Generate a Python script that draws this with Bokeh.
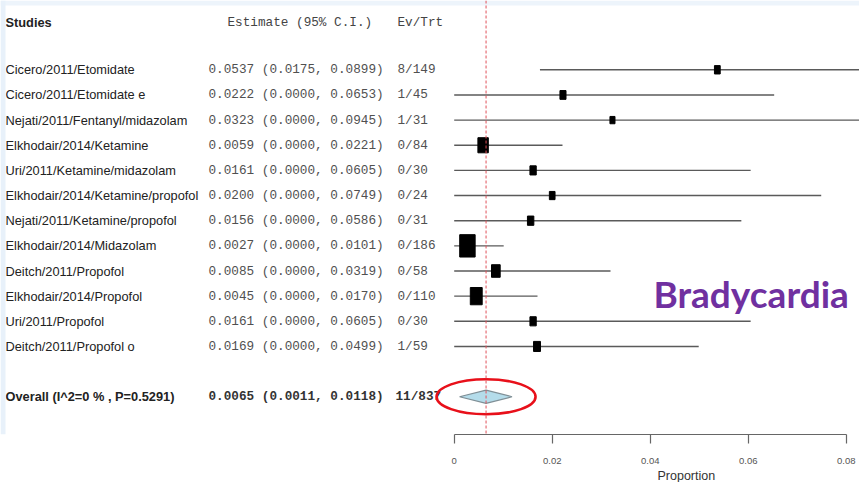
import numpy as np
from bokeh.plotting import figure
from bokeh.models import Range1d, FixedTicker, Span, Title, BoxAnnotation
from bokeh.core.properties import value
from bokeh.embed import file_html
from bokeh.resources import INLINE

# ---------------- data ----------------
studies = [
    "Cicero/2011/Etomidate",
    "Cicero/2011/Etomidate e",
    "Nejati/2011/Fentanyl/midazolam",
    "Elkhodair/2014/Ketamine",
    "Uri/2011/Ketamine/midazolam",
    "Elkhodair/2014/Ketamine/propofol",
    "Nejati/2011/Ketamine/propofol",
    "Elkhodair/2014/Midazolam",
    "Deitch/2011/Propofol",
    "Elkhodair/2014/Propofol",
    "Uri/2011/Propofol",
    "Deitch/2011/Propofol o",
]
estimates = [0.0537, 0.0222, 0.0323, 0.0059, 0.0161, 0.0200, 0.0156, 0.0027, 0.0085, 0.0045, 0.0161, 0.0169]
ci_lower = [0.0175, 0.0000, 0.0000, 0.0000, 0.0000, 0.0000, 0.0000, 0.0000, 0.0000, 0.0000, 0.0000, 0.0000]
ci_upper = [0.0899, 0.0653, 0.0945, 0.0221, 0.0605, 0.0749, 0.0586, 0.0101, 0.0319, 0.0170, 0.0605, 0.0499]
events = [8, 1, 1, 0, 0, 0, 0, 0, 0, 0, 0, 1]
treated = [149, 45, 31, 84, 30, 24, 31, 186, 58, 110, 30, 59]

overall_est = 0.0065
overall_lower = 0.0011
overall_upper = 0.0118
overall_i2 = 0
overall_p = 0.5291

tick_values = [0, 0.02, 0.04, 0.06, 0.08]
tick_labels = ["0", "0.02", "0.04", "0.06", "0.08"]
axis_title = "Proportion"
annotation = "Bradycardia"

# ---------------- layout ----------------
W, H = 859, 484
X0_REF, PX_PER_UNIT = 453.7, 4900.0
ROW0_REF, ROW_STEP = 69.3, 25.15
AXIS_REF = 434

x_start = -X0_REF / PX_PER_UNIT
x_end = (W - X0_REF) / PX_PER_UNIT
y_top = -ROW0_REF / ROW_STEP
y_bot = (AXIS_REF - ROW0_REF) / ROW_STEP

n = len(studies)
rows = list(range(n))
header_row = -1.9
overall_row = n + 1

p = figure(frame_width=W, frame_height=AXIS_REF,
           x_range=Range1d(x_start, x_end), y_range=Range1d(y_bot, y_top),
           output_backend="svg", toolbar_location=None, y_axis_location=None,
           min_border_left=0, min_border_right=0, min_border_top=0, min_border_bottom=0)
p.grid.visible = False
p.outline_line_color = None
p.background_fill_color = "white"
p.border_fill_color = "white"

# slide background edges
p.add_layout(BoxAnnotation(top=y_top, bottom=y_top + 5 / ROW_STEP, fill_color="#edf4fb",
                           fill_alpha=1, line_color=None))
p.add_layout(BoxAnnotation(left=x_start, right=x_start + 5 / PX_PER_UNIT, fill_color="#e8f1fa",
                           fill_alpha=1, line_color=None))

ax = p.xaxis[0]
ax.ticker = FixedTicker(ticks=tick_values)
ax.major_label_overrides = {t: l for t, l in zip(tick_values, tick_labels)}
ax.bounds = (tick_values[0], tick_values[-1])
ax.major_tick_out = 9
ax.major_tick_in = 0
ax.minor_tick_out = 0
ax.minor_tick_in = 0
ax.axis_line_color = "#666666"
ax.axis_line_width = 1.2
ax.major_tick_line_color = "#666666"
ax.major_tick_line_width = 1.2
ax.major_label_text_font = "Liberation Sans"
ax.major_label_text_font_size = "9.5px"
ax.major_label_text_color = "#555555"
ax.major_label_standoff = 14

p.add_layout(Title(text=axis_title, align="left", offset=657, standoff=0,
                   text_font="Liberation Sans", text_font_size="12.5px",
                   text_font_style="normal", text_color="#333333"), "below")

# reference line at pooled estimate
p.add_layout(Span(location=overall_est, dimension="height", line_color="#e0505a",
                  line_dash="3 2", line_width=1))

# CI lines
p.segment(x0=ci_lower, x1=ci_upper, y0=rows, y1=rows, line_color="#5a5a5a", line_width=1.4)

# boxes sized by precision
prec = np.sqrt(1.0 / (np.array(ci_upper) - np.array(ci_lower)))
box_w = 1.55 * prec
box_h = 1.45 * 1.55 * prec
p.rect(x=estimates, y=rows, width=box_w, height=box_h, width_units="screen",
       height_units="screen", fill_color="black", line_color="black")

# diamond
dh = 6.6 / ROW_STEP
p.patch(x=[overall_lower, overall_est, overall_upper, overall_est],
        y=[overall_row, overall_row - dh, overall_row, overall_row + dh],
        fill_color="#b4dcea", line_color="#7f8f96", line_width=1.2)

# texts
name_font = value("Liberation Sans")
mono_font = value("Liberation Mono")
NAME_SIZE = "12.8px"
MONO_SIZE = "12.7px"
p.text(x=x_start, y=[header_row], text=["Studies"], x_offset=5, text_font=name_font,
       text_font_style="bold", text_font_size=NAME_SIZE, text_baseline="middle", text_color="#222222")
p.text(x=x_start, y=[header_row, header_row], text=["Estimate (95% C.I.)", "Ev/Trt"],
       x_offset=[227, 397], text_font=mono_font, text_font_size=MONO_SIZE,
       text_baseline="middle", text_color="#444444")

p.text(x=x_start, y=rows, text=studies, x_offset=5, text_font=name_font,
       text_font_size=NAME_SIZE, text_baseline="middle", text_color="#222222")
est_txt = [f"{e:.4f} ({l:.4f}, {h:.4f})" for e, l, h in zip(estimates, ci_lower, ci_upper)]
ev_txt = [f"{a}/{b}" for a, b in zip(events, treated)]
p.text(x=x_start, y=rows, text=est_txt, x_offset=208, text_font=mono_font,
       text_font_size=MONO_SIZE, text_baseline="middle", text_color="#505050")
p.text(x=x_start, y=rows, text=ev_txt, x_offset=397, text_font=mono_font,
       text_font_size=MONO_SIZE, text_baseline="middle", text_color="#505050")

p.text(x=x_start, y=[overall_row], text=[f"Overall (I^2={overall_i2} % , P={overall_p:.4f})"],
       x_offset=5, text_font=name_font, text_font_style="bold", text_font_size=NAME_SIZE,
       text_baseline="middle", text_color="#222222")
p.text(x=x_start, y=[overall_row, overall_row],
       text=[f"{overall_est:.4f} ({overall_lower:.4f}, {overall_upper:.4f})",
             f"{sum(events)}/{sum(treated)}"],
       x_offset=[208, 395], text_font=mono_font, text_font_style="bold",
       text_font_size=MONO_SIZE, text_baseline="middle", text_color="#333333")

# highlight ellipse
p.ellipse(x=[overall_est], y=[overall_row], width=99, height=35,
          width_units="screen", height_units="screen", fill_color=None,
          line_color="#e8101a", line_width=2.6)

# slide annotation
p.text(x=x_start, y=[(293.3 - ROW0_REF) / ROW_STEP], text=[annotation], x_offset=653,
       text_font=value("Lato"), text_font_style="bold", text_font_size="37px",
       text_baseline="alphabetic", text_color="#7030a0")

open("out.html", "w").write(file_html(p, INLINE))
